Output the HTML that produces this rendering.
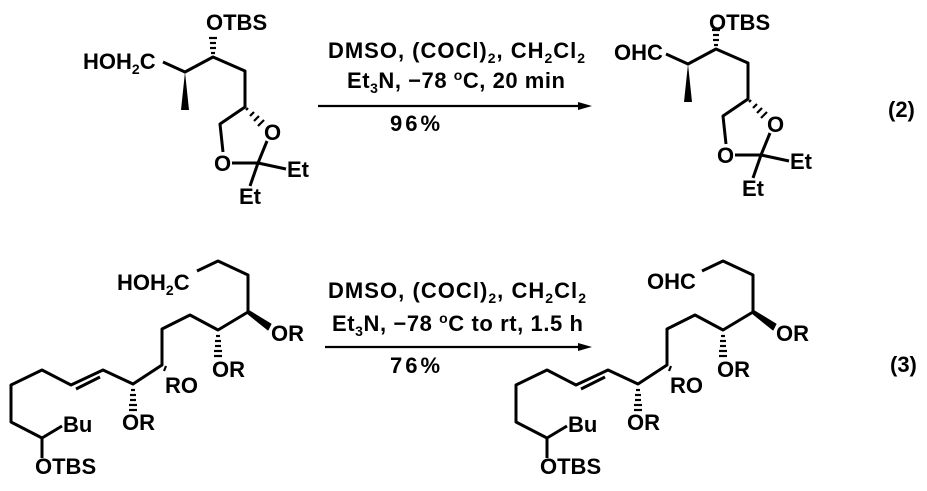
<!DOCTYPE html>
<html><head><meta charset="utf-8"><style>
html,body{margin:0;padding:0;background:#fff;}
svg{display:block;}
text{font-family:"Liberation Sans",Arial,sans-serif;font-size:22px;font-weight:bold;fill:#000;}
.s{font-size:14px;}
</style></head><body>
<svg width="927" height="491" viewBox="0 0 927 491" xmlns="http://www.w3.org/2000/svg">
<defs>
<g id="m1" stroke="#000" stroke-width="3" fill="none" stroke-linejoin="round">
  <polyline points="163,62 185,72 213,57 245,71 245,107 220,124 223,152"/>
  <polygon points="185,72 181,110 189,110" fill="#000" stroke="none"/>
  <g stroke-width="2.2">
    <line x1="211" y1="53" x2="215" y2="53"/><line x1="210" y1="48" x2="216" y2="48"/>
    <line x1="210" y1="43" x2="216" y2="43"/><line x1="209" y1="38" x2="217" y2="38"/>
    <line x1="248" y1="108" x2="246" y2="110"/><line x1="254" y1="112" x2="250" y2="116"/>
    <line x1="259" y1="116" x2="254" y2="121"/><line x1="264" y1="120" x2="258" y2="126"/>
  </g>
  <line x1="232" y1="163" x2="258" y2="163"/>
  <line x1="258" y1="163" x2="267" y2="141"/>
  <line x1="258" y1="163" x2="286" y2="169"/>
  <line x1="258" y1="163" x2="250" y2="186"/>
</g>
<g id="m2" stroke="#000" stroke-width="3" fill="none" stroke-linejoin="round">
  <polyline points="197,271 218,261 248,275 248,312 218,330 190,315 162,329 162,365 133,384 103,370 71,385 42,370 11,385 11,422 42,438 62,426"/>
  <line x1="100" y1="377" x2="76" y2="389"/>
  <line x1="42" y1="438" x2="42" y2="458"/>
  <polygon points="248,310 248,314 268,330 271,324" fill="#000" stroke-width="1"/>
  <g stroke-width="2.2">
    <line x1="216" y1="336" x2="220" y2="336"/><line x1="215" y1="341" x2="221" y2="341"/>
    <line x1="215" y1="346" x2="221" y2="346"/><line x1="214" y1="351" x2="222" y2="351"/>
    <line x1="214" y1="356" x2="222" y2="356"/>
    <line x1="131" y1="390" x2="135" y2="390"/><line x1="130" y1="395" x2="136" y2="395"/>
    <line x1="130" y1="400" x2="136" y2="400"/><line x1="129" y1="405" x2="137" y2="405"/>
    <line x1="129" y1="410" x2="137" y2="410"/>
    <line x1="166" y1="366" x2="164" y2="371"/>
  </g>
</g>
</defs>

<use href="#m1"/>
<text x="83" y="69">HOH<tspan class="s" dy="5">2</tspan><tspan dy="-5">C</tspan></text>
<text x="206" y="30">OTBS</text>
<text x="264" y="140">O</text>
<text x="214" y="171">O</text>
<text x="287" y="177">Et</text>
<text x="239" y="204">Et</text>

<g transform="translate(503,-8)"><use href="#m1"/>
<text x="264" y="140">O</text>
<text x="214" y="171">O</text>
<text x="287" y="177">Et</text>
<text x="239" y="204">Et</text>
</g>
<text x="614" y="60">OHC</text>
<text x="709" y="30">OTBS</text>
<text x="888" y="117">(2)</text>

<line x1="318" y1="106" x2="582" y2="106" stroke="#000" stroke-width="2.2"/>
<polygon points="592,106 578,102 578,110" fill="#000"/>
<text x="328" y="58" textLength="257" lengthAdjust="spacing">DMSO, (COCl)<tspan class="s" dy="5">2</tspan><tspan dy="-5">, CH</tspan><tspan class="s" dy="5">2</tspan><tspan dy="-5">Cl</tspan><tspan class="s" dy="5">2</tspan></text>
<text x="347" y="88" textLength="218" lengthAdjust="spacing">Et<tspan class="s" dy="5">3</tspan><tspan dy="-5">N, −78 </tspan><tspan class="s" dy="-8">o</tspan><tspan dy="8">C, 20 min</tspan></text>
<text x="390" y="131" textLength="50" lengthAdjust="spacing">96%</text>

<use href="#m2"/>
<text x="117" y="290">HOH<tspan class="s" dy="5">2</tspan><tspan dy="-5">C</tspan></text>
<text x="271" y="341">OR</text>
<text x="212" y="377">OR</text>
<text x="165" y="393">RO</text>
<text x="122" y="430">OR</text>
<text x="63" y="432">Bu</text>
<text x="35" y="474">OTBS</text>

<g transform="translate(505,0)"><use href="#m2"/>
<text x="271" y="341">OR</text>
<text x="212" y="377">OR</text>
<text x="165" y="393">RO</text>
<text x="122" y="430">OR</text>
<text x="63" y="432">Bu</text>
<text x="35" y="474">OTBS</text>
</g>
<text x="647" y="289">OHC</text>
<text x="890" y="372">(3)</text>

<line x1="325" y1="347" x2="582" y2="347" stroke="#000" stroke-width="2.2"/>
<polygon points="592,347 578,343 578,351" fill="#000"/>
<text x="328" y="298" textLength="258" lengthAdjust="spacing">DMSO, (COCl)<tspan class="s" dy="5">2</tspan><tspan dy="-5">, CH</tspan><tspan class="s" dy="5">2</tspan><tspan dy="-5">Cl</tspan><tspan class="s" dy="5">2</tspan></text>
<text x="332" y="331" textLength="251" lengthAdjust="spacing">Et<tspan class="s" dy="5">3</tspan><tspan dy="-5">N, −78 </tspan><tspan class="s" dy="-8">o</tspan><tspan dy="8">C to rt, 1.5 h</tspan></text>
<text x="390" y="373" textLength="50" lengthAdjust="spacing">76%</text>
</svg>
</body></html>
